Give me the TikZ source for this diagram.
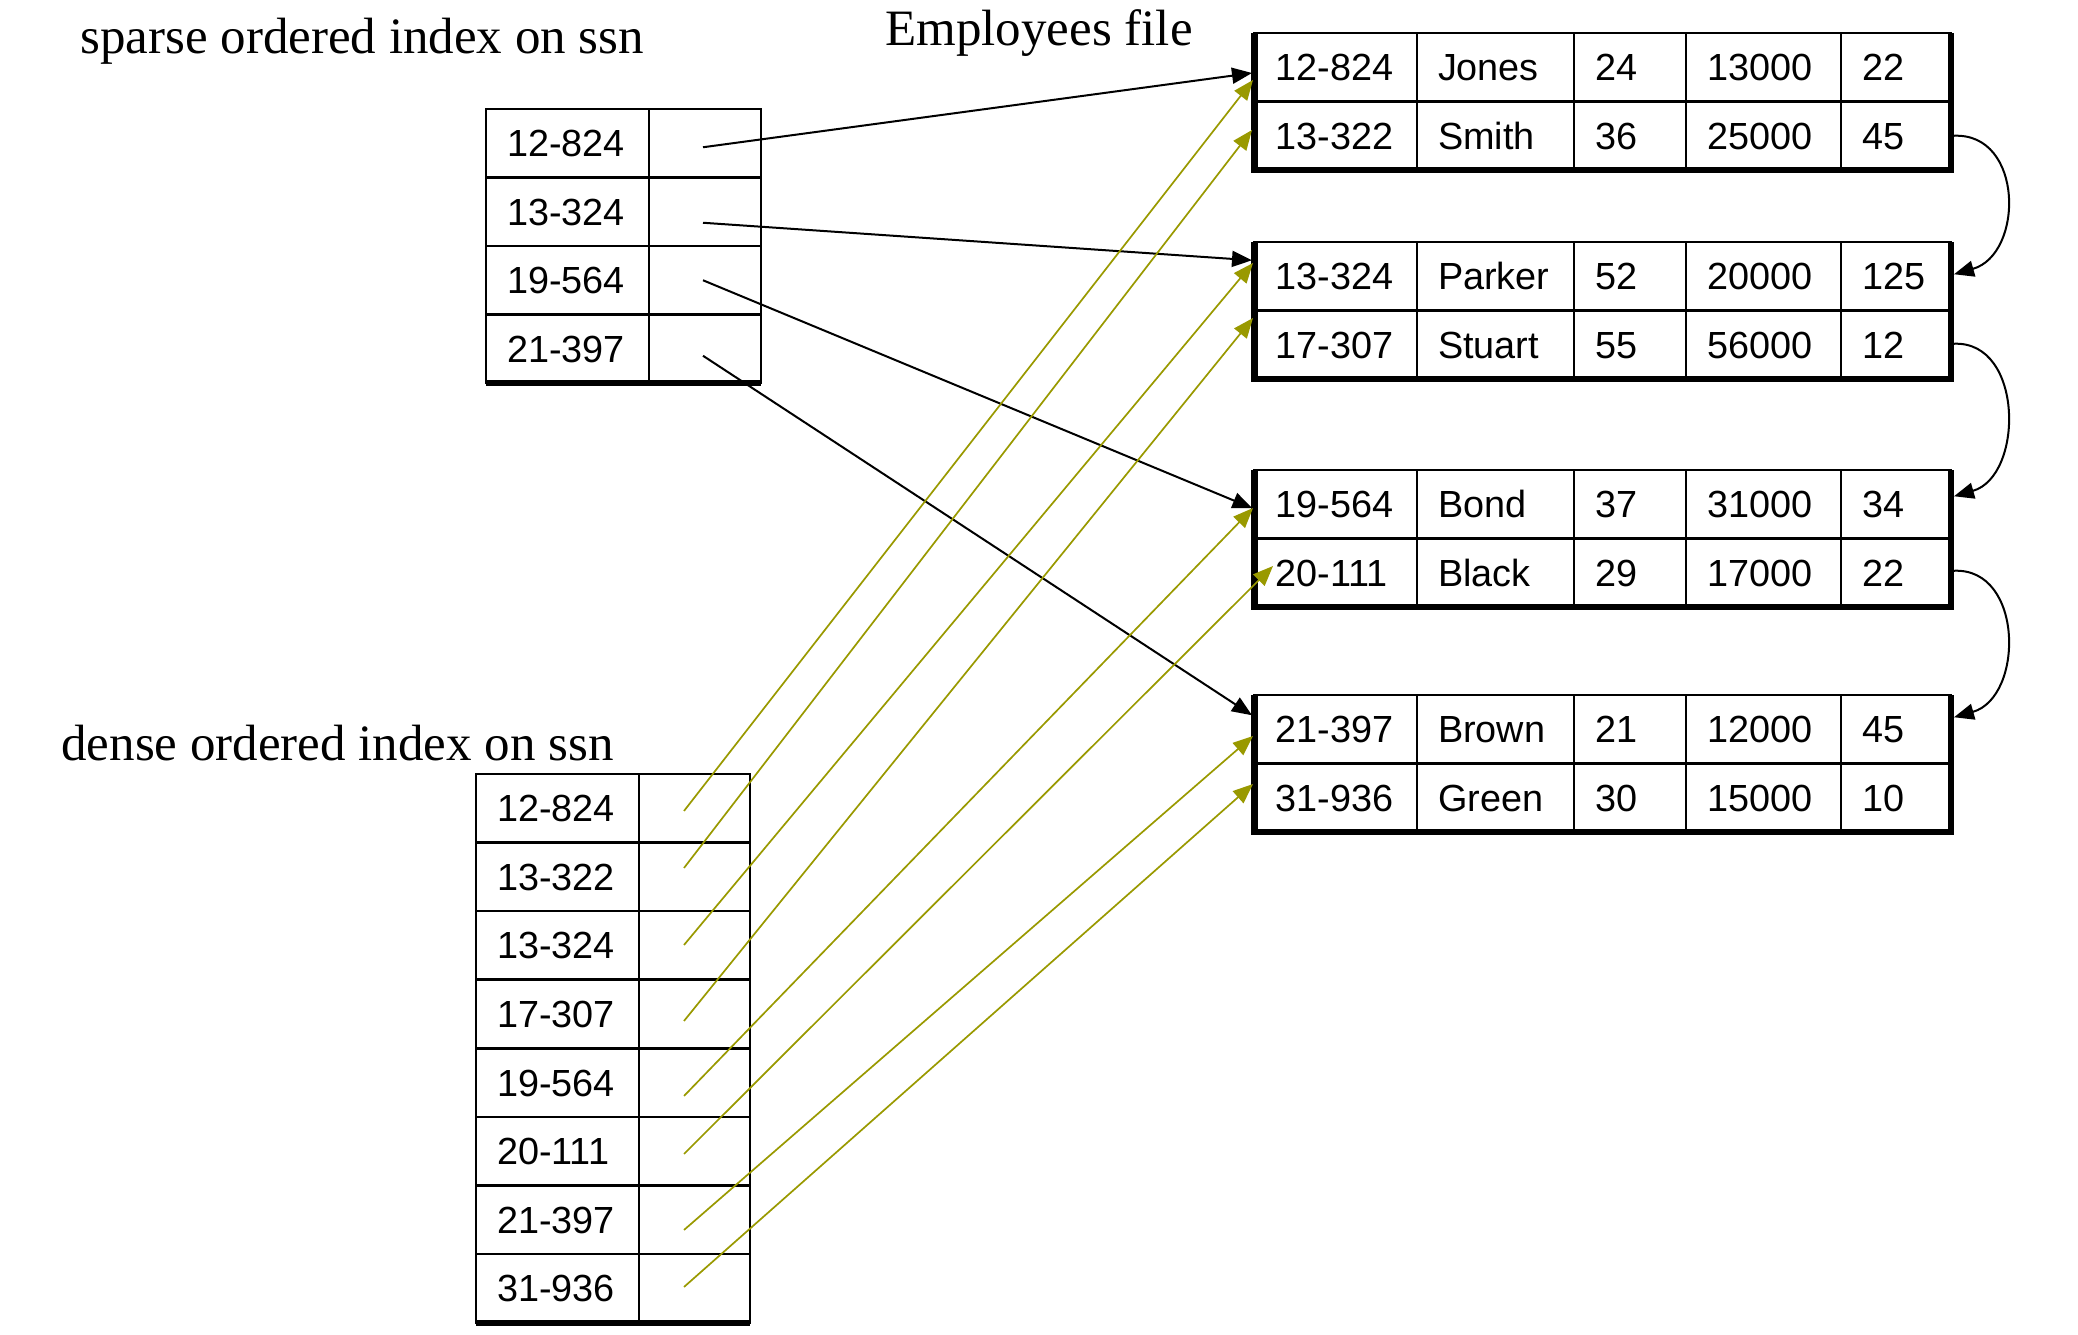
\documentclass[tikz,border=0pt]{standalone}
\usepackage{fontspec}
\setmainfont{Liberation Serif}
\newfontfamily\cellfont{Liberation Sans}
\usetikzlibrary{arrows.meta,calc}
\definecolor{olivearrow}{RGB}{153,153,0}
% one row of the Employees file: #1 name prefix, #2 top y, #3..#7 texts
\newcommand\emprow[7]{%
  \node[cell,text width=60.25pt] (#1-1) at (1254.5,#2) {#3};
  \node[cell,text width=57.5pt]  (#1-2) at (1417,#2)   {#4};
  \node[cell,text width=35pt]    (#1-3) at (1574,#2)   {#5};
  \node[cell,text width=56.5pt]  (#1-4) at (1686,#2)   {#6};
  \node[cell,text width=34pt]    (#1-5) at (1841,#2)   {#7};
}
\begin{document}
\begin{tikzpicture}[x=0.5pt,y=-0.5pt,
  cell/.style={draw,line width=1.25pt,outer sep=0pt,anchor=north west,
    minimum height=34.25pt,inner xsep=10.5pt,inner ysep=0pt,
    text height=13.4pt,text depth=0pt,align=left,
    font=\cellfont\fontsize{18.9}{22}\selectfont},
  edge/.style={line width=3.2pt},
  title/.style={anchor=base west,inner sep=0pt,font=\fontsize{25.5}{30}\selectfont},
  blk/.style={draw=black,line width=1pt,-{Triangle[length=10pt,width=8pt]}},
  grn/.style={draw=olivearrow,line width=0.85pt,
    -{Triangle[length=10pt,width=8pt,fill=olivearrow]}},
]
\useasboundingbox (0,0) rectangle (2078,1334);

% titles
\node[title] (tsparse) at (80,53) {sparse ordered index on ssn};
\node[title] (temp) at (885,45) {Employees file};
\node[title] (tdense) at (61,760) {dense ordered index on ssn};

% sparse index
\foreach \t [count=\i] in {12-824,13-324,19-564,21-397} {
  \node[cell,text width=60.5pt] (spk\i) at (486,{109+68.5*(\i-1)}) {\t};
  \node[cell,text width=35pt] (spp\i) at (649,{109+68.5*(\i-1)}) {};
}
\draw[edge] (spk4.south west) -- (spp4.south east);

% dense index
\foreach \t [count=\i] in {12-824,13-322,13-324,17-307,19-564,20-111,21-397,31-936} {
  \node[cell,text width=60.5pt] (dnk\i) at (476,{774+68.6*(\i-1)}) {\t};
  \node[cell,text width=34.5pt] (dnp\i) at (639,{774+68.6*(\i-1)}) {};
}
\draw[edge] (dnk8.south west) -- (dnp8.south east);

% employees file blocks
\emprow{e1-1}{33}{12-824}{Jones}{24}{13000}{22}
\emprow{e1-2}{101.5}{13-322}{Smith}{36}{25000}{45}
\emprow{e2-1}{242}{13-324}{Parker}{52}{20000}{125}
\emprow{e2-2}{310.5}{17-307}{Stuart}{55}{56000}{12}
\emprow{e3-1}{470}{19-564}{Bond}{37}{31000}{34}
\emprow{e3-2}{538.5}{20-111}{Black}{29}{17000}{22}
\emprow{e4-1}{695}{21-397}{Brown}{21}{12000}{45}
\emprow{e4-2}{763.5}{31-936}{Green}{30}{15000}{10}
\foreach \t in {1,2,3,4} {
  \draw[edge] (e\t-1-1.north west) -- (e\t-2-1.south west)
    -- (e\t-2-5.south east) -- (e\t-1-5.north east);
}

% chain between blocks
\draw[blk] ($(e1-2-5.east)+(3,0)$) .. controls +(70,-3) and +(70,-20) .. ($(e2-1-5.east)+(3,-2)$);
\draw[blk] ($(e2-2-5.east)+(3,-1)$) .. controls +(70,-3) and +(70,-20) .. ($(e3-1-5.east)+(3,-8)$);
\draw[blk] ($(e3-2-5.east)+(3,-2)$) .. controls +(70,-3) and +(70,-20) .. ($(e4-1-5.east)+(3,-12)$);

% sparse index pointers
\foreach \i/\sy/\tn/\tx/\ty in {1/4/e1-1-1/-2.5/5.75, 2/11/e2-1-1/-2.5/-16,
    3/0/e3-1-1/-2/4, 4/7/e4-1-1/-2.5/-14} {
  \draw[blk] ($(spp\i.center)+(-2,\sy)$) -- ($(\tn.west)+(\tx,\ty)$);
}

% dense index pointers
\foreach \i/\sy/\tn/\tx/\ty in {1/2.7/e1-1-1/-1.5/12.75, 2/-8.9/e1-2-1/-2.5/-5.75,
    3/-0.5/e2-1-1/-1.5/-13.25, 4/6.9/e2-2-1/-1.5/-26.75,
    5/13.3/e3-1-1/-1.5/3.75, 6/2.7/e3-2-1/18.5/-6.75,
    7/10.1/e4-1-1/-1.5/6.75, 8/-1.5/e4-2-1/-1.5/-13.75} {
  \draw[grn] ($(dnp\i.center)+(-10.5,\sy)$) -- ($(\tn.west)+(\tx,\ty)$);
}
\end{tikzpicture}
\end{document}
